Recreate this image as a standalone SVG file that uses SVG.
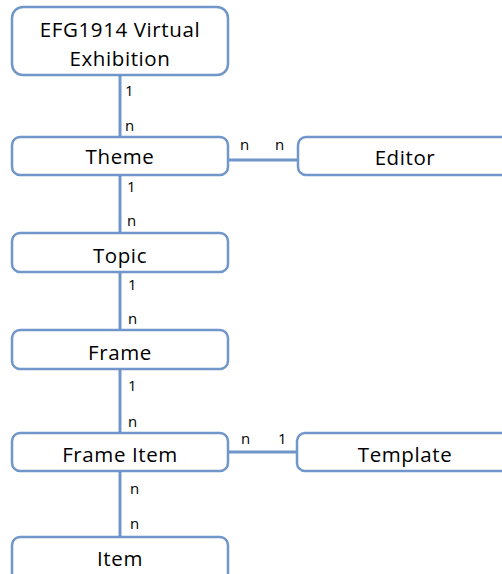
<svg xmlns="http://www.w3.org/2000/svg" width="502" height="574" viewBox="0 0 502 574">
<style>
.box{fill:#fff;stroke:#7196c9;stroke-width:2.5}
.t{font-family:"Open Sans","Liberation Sans",sans-serif;font-size:20.5px;letter-spacing:0.6px;fill:#000;text-anchor:middle}
.l{font-family:"Open Sans","Liberation Sans",sans-serif;font-size:15px;fill:#000}
.c{stroke:#7196c9;stroke-width:3;fill:none}
</style>
<rect width="502" height="574" fill="#fff"/>
<g id="connectors">
<line class="c" x1="120" y1="75" x2="120" y2="137"/>
<line class="c" x1="120" y1="175" x2="120" y2="233"/>
<line class="c" x1="120" y1="272" x2="120" y2="330"/>
<line class="c" x1="120" y1="369" x2="120" y2="433"/>
<line class="c" x1="120" y1="471" x2="120" y2="537"/>
<line class="c" x1="228" y1="160" x2="298" y2="160"/>
<line class="c" x1="228" y1="452" x2="297" y2="452"/>
<text class="l" x="125" y="96">1</text>
<text class="l" x="125" y="131">n</text>
<text class="l" x="127" y="192">1</text>
<text class="l" x="127" y="226">n</text>
<text class="l" x="128" y="290">1</text>
<text class="l" x="128" y="324">n</text>
<text class="l" x="128" y="391">1</text>
<text class="l" x="128" y="427">n</text>
<text class="l" x="130" y="494">n</text>
<text class="l" x="130" y="529">n</text>
<text class="l" x="240" y="150">n</text>
<text class="l" x="275" y="150">n</text>
<text class="l" x="241" y="444">n</text>
<text class="l" x="278" y="444">1</text>
</g>
<g id="node-exhibition">
<rect class="box" x="12" y="7" width="216" height="68" rx="11"/>
<text class="t" x="120" y="37">EFG1914 Virtual</text>
<text class="t" x="120" y="66">Exhibition</text>
</g>
<g id="node-theme">
<rect class="box" x="12" y="137" width="216" height="38" rx="8"/>
<text class="t" x="120" y="164">Theme</text>
</g>
<g id="node-editor">
<rect class="box" x="298" y="137" width="215" height="38" rx="8"/>
<text class="t" x="405" y="165">Editor</text>
</g>
<g id="node-topic">
<rect class="box" x="12" y="233" width="216" height="39" rx="8"/>
<text class="t" x="120" y="263">Topic</text>
</g>
<g id="node-frame">
<rect class="box" x="12" y="330" width="216" height="39" rx="8"/>
<text class="t" x="120" y="360">Frame</text>
</g>
<g id="node-frameitem">
<rect class="box" x="12" y="433" width="216" height="38" rx="8"/>
<text class="t" x="120" y="462">Frame Item</text>
</g>
<g id="node-template">
<rect class="box" x="297" y="433" width="216" height="38" rx="8"/>
<text class="t" x="405" y="462">Template</text>
</g>
<g id="node-item">
<rect class="box" x="12" y="537" width="216" height="50" rx="8"/>
<text class="t" x="120" y="566">Item</text>
</g>
</svg>
